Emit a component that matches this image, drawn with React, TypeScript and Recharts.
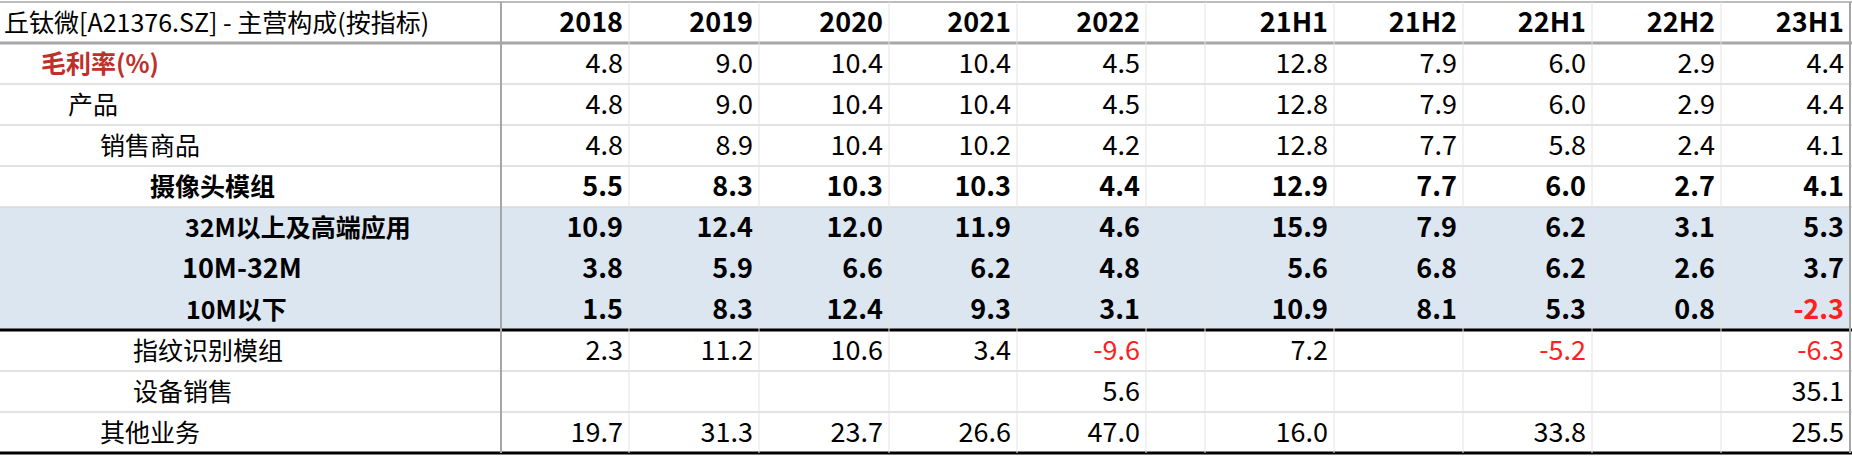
import { ScatterChart, Scatter, XAxis, YAxis, ReferenceLine, ReferenceArea } from "recharts";

const title = "丘钛微[A21376.SZ] - 主营构成(按指标)";
const periods = ["2018", "2019", "2020", "2021", "2022", "21H1", "21H2", "22H1", "22H2", "23H1"];
const rowLabels = [
  "毛利率(%)",
  "产品",
  "销售商品",
  "摄像头模组",
  "32M以上及高端应用",
  "10M-32M",
  "10M以下",
  "指纹识别模组",
  "设备销售",
  "其他业务",
];
const rowIndent = [41, 68, 100, 150, 185, 182, 186, 133, 133, 100];
const boldRows = [3, 4, 5, 6];
const values: (number | null)[][] = [
  [4.8, 9.0, 10.4, 10.4, 4.5, 12.8, 7.9, 6.0, 2.9, 4.4],
  [4.8, 9.0, 10.4, 10.4, 4.5, 12.8, 7.9, 6.0, 2.9, 4.4],
  [4.8, 8.9, 10.4, 10.2, 4.2, 12.8, 7.7, 5.8, 2.4, 4.1],
  [5.5, 8.3, 10.3, 10.3, 4.4, 12.9, 7.7, 6.0, 2.7, 4.1],
  [10.9, 12.4, 12.0, 11.9, 4.6, 15.9, 7.9, 6.2, 3.1, 5.3],
  [3.8, 5.9, 6.6, 6.2, 4.8, 5.6, 6.8, 6.2, 2.6, 3.7],
  [1.5, 8.3, 12.4, 9.3, 3.1, 10.9, 8.1, 5.3, 0.8, -2.3],
  [2.3, 11.2, 10.6, 3.4, -9.6, 7.2, null, -5.2, null, -6.3],
  [null, null, null, null, 5.6, null, null, null, null, 35.1],
  [19.7, 31.3, 23.7, 26.6, 47.0, 16.0, null, 33.8, null, 25.5],
];

// layout: right edges of the value columns, in pixels
const colEdges = [501, 629, 759, 889, 1017, 1146, 1205, 1334, 1463, 1592, 1721, 1850];
const colRight = [629, 759, 889, 1017, 1146, 1334, 1463, 1592, 1721, 1850];

const FONT = '"Liberation Sans Narrow", "Noto Sans CJK SC", sans-serif';

type Cell = { x: number; y: number; text: string; anchor: string; bold: boolean; color: string };

const cells: Cell[] = [];
cells.push({ x: 4, y: -0.5, text: title, anchor: "start", bold: false, color: "#000" });
periods.forEach((p, i) =>
  cells.push({ x: colRight[i] - 6, y: -0.5, text: p, anchor: "end", bold: true, color: "#000" })
);
rowLabels.forEach((l, r) =>
  cells.push({
    x: rowIndent[r],
    y: r + 0.5,
    text: l,
    anchor: "start",
    bold: r === 0 || boldRows.includes(r),
    color: r === 0 ? "#c0302a" : "#000",
  })
);
values.forEach((row, r) =>
  row.forEach((v, i) => {
    if (v == null) return;
    cells.push({
      x: colRight[i] - 6,
      y: r + 0.5,
      text: v.toFixed(1),
      anchor: "end",
      bold: boldRows.includes(r),
      color: v < 0 ? "#ff2020" : "#000",
    });
  })
);

const TextCell = (props: any) => {
  const { cx, cy, payload } = props;
  return (
    <text
      x={cx}
      y={cy}
      dy={9}
      textAnchor={payload.anchor}
      fontFamily={FONT}
      fontSize={payload.text.match(/[\u4e00-\u9fff]/) && payload.anchor === "start" ? 25 : 27}
      fontWeight={payload.bold ? 700 : 400}
      fill={payload.color}
    >
      {payload.text}
    </text>
  );
};

export default function App() {
  return (
    <div style={{ width: 1852, height: 456, background: "#fff" }}>
      <style>{"body{margin:0}"}</style>
      <ScatterChart width={1852} height={456} margin={{ top: 2, right: 0, bottom: 3, left: 0 }}>
        <XAxis type="number" dataKey="x" domain={[0, 1852]} hide />
        <YAxis type="number" dataKey="y" domain={[-1, 10]} reversed hide />
        <ReferenceArea x1={0} x2={1850} y1={4} y2={7} fill="#dce6f1" fillOpacity={1} stroke="none" />
        {[1, 2, 3, 4, 8, 9].map((r) => (
          <ReferenceLine key={"h" + r} y={r} stroke="#d9d9d9" strokeWidth={1.5} />
        ))}
        <ReferenceLine y={-1} stroke="#a6a6a6" strokeWidth={1.5} />
        <ReferenceLine y={0} stroke="#a6a6a6" strokeWidth={3} />
        <ReferenceLine y={7} stroke="#000" strokeWidth={3} />
        <ReferenceLine y={10} stroke="#000" strokeWidth={3} />
        {colEdges.slice(1, -1).map((x) => (
          <ReferenceLine key={"v" + x} x={x} stroke="#e3e3e3" strokeWidth={1} />
        ))}
        <ReferenceLine x={colEdges[0]} stroke="#a6a6a6" strokeWidth={2} />
        <ReferenceLine x={colEdges[colEdges.length - 1]} stroke="#a6a6a6" strokeWidth={2} />
        <Scatter data={cells} shape={TextCell} isAnimationActive={false} />
      </ScatterChart>
    </div>
  );
}
